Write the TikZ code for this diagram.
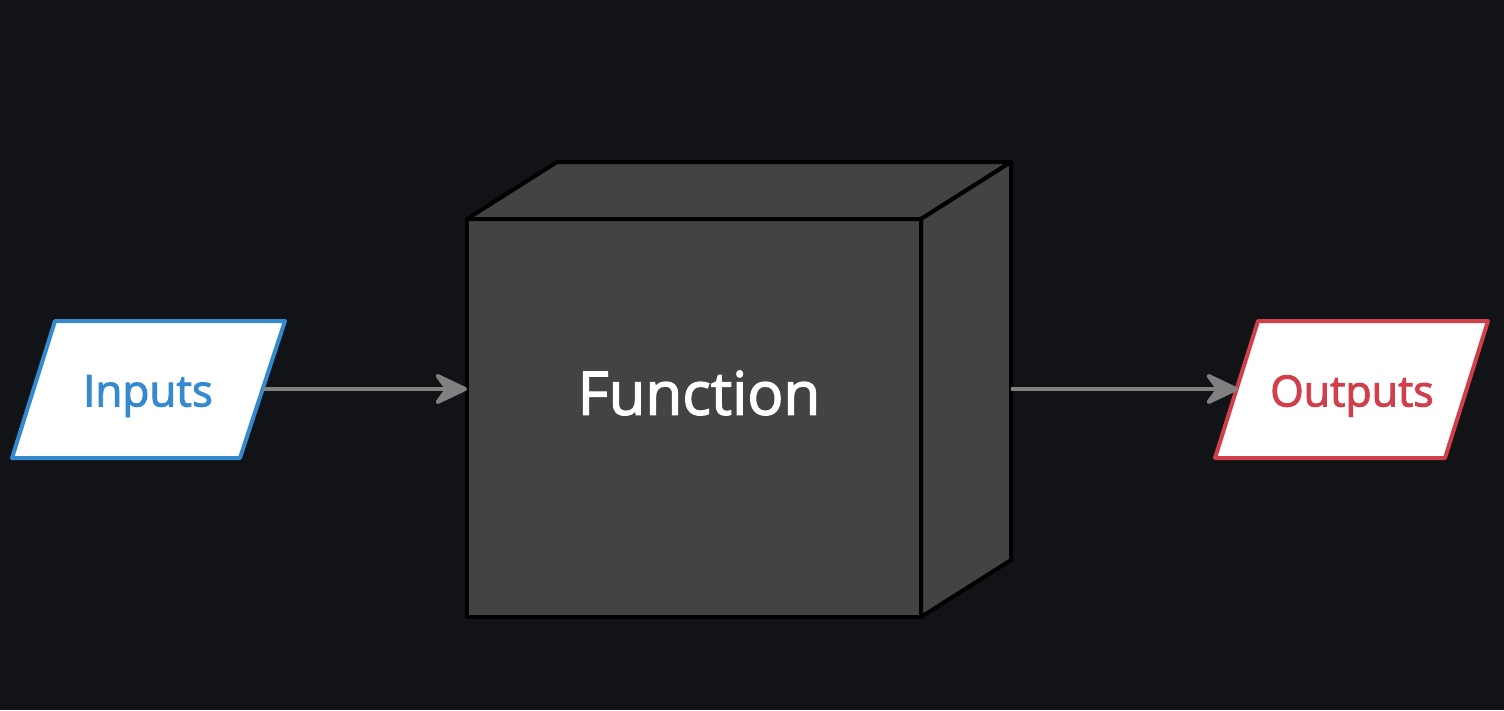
\documentclass[tikz,border=0pt]{standalone}
\usepackage{fontspec}
\setmainfont{Open Sans}
\newfontfamily\semib{Open Sans}[FakeBold=2.2]
\usetikzlibrary{arrows.meta}
\definecolor{bgc}{HTML}{111317}
\definecolor{inblue}{HTML}{3589CF}
\definecolor{outred}{HTML}{D13F4B}
\definecolor{facec}{HTML}{434343}
\definecolor{connc}{HTML}{808080}
\tikzset{
  iofill/.style={fill=white, line width=4pt, line join=round},
  intext/.style={text=inblue, font=\semib\fontsize{44}{52}\selectfont, inner sep=0pt},
  outtext/.style={text=outred, font=\semib\fontsize{43}{52}\selectfont, inner sep=0pt},
  front/.style={draw=black, fill=facec, line width=4pt, minimum width=454pt, minimum height=398pt, inner sep=0pt, outer sep=0pt, line join=round},
  cubeface/.style={draw=black, fill=facec, line width=4pt, line join=round},
  fntext/.style={text=white, font=\semib\fontsize{60}{70}\selectfont, inner sep=0pt},
  conn/.style={draw=connc, line width=4pt, -{Stealth[length=38pt, width=36pt, inset=13pt, round]}}
}
\begin{document}
\begin{tikzpicture}[x=1pt,y=-1pt]
\fill[bgc] (0,0) rectangle (1504,710);
\useasboundingbox (0,0) rectangle (1504,710);
% Inputs
\draw[iofill, draw=inblue] (55,321) -- (285,321) -- (240,458) -- (12,458) -- cycle;
\node[intext] (inp) at (148,396) {Inputs};
\coordinate (inpE) at (263,389);
% Outputs
\draw[iofill, draw=outred] (1258,321) -- (1488,321) -- (1445,458) -- (1215,458) -- cycle;
\node[outtext] (outp) at (1352,396) {Outputs};
\coordinate (outW) at (1238,389);
% Cube
\node[front] (fn) at (694,418) {};
\draw[cubeface] (fn.north west) -- ++(90,-57) -- ++(454,0) -- (fn.north east) -- cycle;
\draw[cubeface] (fn.north east) -- ++(90,-57) -- ++(0,398) -- (fn.south east) -- cycle;
\node[fntext] (fnl) at (699,393) {Function};
\coordinate (fnE) at (1011,389);
% Connectors
\draw[conn] (inpE) -- (inpE -| fn.west);
\draw[conn] (fnE) -- (outW);
\end{tikzpicture}
\end{document}
